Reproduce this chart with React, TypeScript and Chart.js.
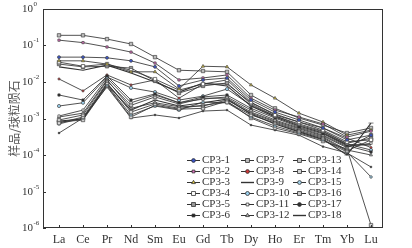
import React, { useEffect, useRef } from "react";
import { Chart, registerables } from "chart.js";
import { drawPoint } from "chart.js/helpers";

Chart.register(...registerables);

const categories = ["La", "Ce", "Pr", "Nd", "Sm", "Eu", "Gd", "Tb", "Dy", "Ho", "Er", "Tm", "Yb", "Lu"];
const seriesNames = [
  "CP3-1", "CP3-2", "CP3-3", "CP3-4", "CP3-5", "CP3-6",
  "CP3-7", "CP3-8", "CP3-9", "CP3-10", "CP3-11", "CP3-12",
  "CP3-13", "CP3-14", "CP3-15", "CP3-16", "CP3-17", "CP3-18",
];
const yTickExponents = [0, -1, -2, -3, -4, -5, -6];

const cp3_1 = [0.048, 0.048, 0.046, 0.038, 0.026, 0.0078, 0.0114, 0.0129, 0.0032, 0.0015, 0.00091, 0.00055, 0.00026, 0.00035];
const cp3_2 = [0.14, 0.12, 0.091, 0.066, 0.033, 0.0114, 0.0129, 0.0156, 0.0036, 0.0017, 0.0011, 0.00071, 0.00031, 0.00045];
const cp3_3 = [0.038, 0.038, 0.031, 0.019, 0.019, 0.0064, 0.027, 0.026, 0.0083, 0.0036, 0.0014, 0.0008, 0.00035, 0.00048];
const cp3_4 = [0.035, 0.027, 0.031, 0.021, 0.012, 0.006, 0.0088, 0.0114, 0.0028, 0.00125, 0.0008, 0.00048, 0.00023, 0.00026];
const cp3_5 = [0.031, 0.026, 0.027, 0.024, 0.0107, 0.005, 0.0078, 0.0094, 0.0025, 0.00117, 0.00071, 0.00045, 0.00021, 0.00029];
const cp3_6 = [0.0044, 0.0032, 0.0146, 0.0032, 0.0047, 0.0027, 0.0039, 0.0044, 0.0019, 0.00103, 0.00058, 0.00038, 0.00018, 0.000121];
const cp3_7 = [0.19, 0.19, 0.15, 0.11, 0.048, 0.021, 0.02, 0.019, 0.0044, 0.0019, 0.00103, 0.00066, 0.0004, 0.00055];
const cp3_8 = [0.0121, 0.0057, 0.0156, 0.0083, 0.0114, 0.0036, 0.0088, 0.0088, 0.0027, 0.00133, 0.0008, 0.00055, 0.00029, 0.00016];
const cp3_9 = [0.026, 0.021, 0.029, 0.0177, 0.01, 0.0053, 0.0094, 0.0078, 0.0022, 0.0011, 0.00062, 0.0004, 0.00019, 0.00019];
const cp3_10 = [0.0022, 0.0027, 0.0137, 0.0069, 0.0053, 0.0032, 0.0041, 0.0064, 0.0023, 0.00117, 0.00066, 0.00043, 0.0002, 0.000137];
const cp3_11 = [0.00117, 0.0017, 0.0129, 0.0027, 0.0044, 0.0027, 0.0034, 0.0039, 0.0017, 0.00091, 0.00055, 0.00035, 0.00017, 0.00021];
const cp3_12 = [0.0011, 0.0014, 0.0114, 0.0019, 0.0027, 0.0021, 0.0022, 0.0032, 0.0014, 0.0008, 0.00048, 0.00031, 0.000137, 0.0001];
const cp3_13 = [0.00091, 0.00125, 0.0107, 0.0023, 0.0039, 0.0025, 0.0036, 0.0036, 0.0015, 0.00085, 0.00052, 0.00033, 0.00016, 0.00035];
const cp3_14 = [0.00075, 0.0011, 0.0094, 0.0015, 0.0025, 0.0019, 0.0023, 0.0028, 0.00125, 0.00075, 0.00045, 0.00029, 0.000129, 0.00026];
const cp3_15 = [0.00071, 0.00103, 0.0083, 0.00125, 0.0022, 0.0017, 0.0028, 0.0027, 0.0011, 0.00062, 0.0004, 0.00026, 0.000121, 0.000025];
const cp3_16 = [0.0008, 0.00091, 0.0078, 0.0011, 0.0023, 0.0018, 0.0019, 0.003, 0.00103, 0.00055, 0.00038, 0.00024, 0.000146, 0.0000012];
const cp3_17 = [0.0004, 0.00103, 0.0073, 0.00103, 0.00125, 0.00103, 0.0016, 0.0017, 0.00066, 0.00048, 0.00035, 0.00017, 0.000114, 0.000047];
const cp3_18 = [0.00085, 0.00097, 0.0088, 0.0017, 0.0032, 0.0022, 0.0027, 0.0034, 0.00133, 0.00071, 0.00043, 0.00027, 0.0001, 0.00075];

const seriesValues = [
  cp3_1, cp3_2, cp3_3, cp3_4, cp3_5, cp3_6, cp3_7, cp3_8, cp3_9,
  cp3_10, cp3_11, cp3_12, cp3_13, cp3_14, cp3_15, cp3_16, cp3_17, cp3_18,
];

// marker style per series: [pointStyle, radius, fill]
const markerStyles: [string | false, number, string][] = [
  ["circle", 1.5, "#3a55c8"],
  ["rect", 1.6, "#e070c0"],
  ["triangle", 1.8, "#e8d040"],
  ["rect", 2.4, "#ffffff"],
  ["rect", 2.4, "#9a9a9a"],
  ["rect", 1.6, "#222222"],
  ["rect", 2.4, "#bdbdbd"],
  ["circle", 1.1, "#d03a3a"],
  [false, 0, "#333333"],
  ["circle", 1.6, "#9ad0ee"],
  ["rect", 1.6, "#ffffff"],
  ["triangle", 1.8, "#bbbbbb"],
  ["rect", 2.4, "#c8c8c8"],
  ["rect", 2.4, "#d8d8d8"],
  ["circle", 1.3, "#a8d8f0"],
  ["rect", 2.4, "#cfcfcf"],
  ["circle", 0.9, "#333333"],
  ["line", 2.5, "#333333"],
];

const TEXT = "#333333";
const SERIF = "'Liberation Serif', 'Times New Roman', serif";

const framePlugin = {
  id: "framePlugin",
  afterDatasetsDraw(chart: any) {
    const ctx = chart.ctx;
    const { left, right, top, bottom } = chart.chartArea;
    const xs = chart.scales.x;
    const ys = chart.scales.y;
    ctx.save();
    ctx.strokeStyle = "#333";
    ctx.lineWidth = 1;
    ctx.strokeRect(left + 0.5, top + 0.5, right - left - 1, bottom - top - 1);
    categories.forEach((_, i) => {
      const px = Math.round(xs.getPixelForValue(i)) + 0.5;
      ctx.beginPath();
      ctx.moveTo(px, bottom);
      ctx.lineTo(px, bottom - 3);
      ctx.stroke();
    });
    yTickExponents.forEach((e) => {
      const py = Math.round(ys.getPixelForValue(Math.pow(10, e))) + 0.5;
      ctx.beginPath();
      ctx.moveTo(left, py);
      ctx.lineTo(left + 3, py);
      ctx.stroke();
      ctx.fillStyle = TEXT;
      ctx.font = `11px ${SERIF}`;
      ctx.textAlign = "right";
      ctx.textBaseline = "middle";
      ctx.fillText("10", 33, py);
      ctx.font = `7px ${SERIF}`;
      ctx.textAlign = "left";
      ctx.fillText(e === 0 ? "0" : "-" + String(-e), 33.5, py - 5);
    });
    ctx.save();
    ctx.translate(14, (top + bottom) / 2);
    ctx.rotate(-Math.PI / 2);
    ctx.font = "12px 'Noto Sans CJK SC', sans-serif";
    ctx.fillStyle = "#555";
    ctx.textAlign = "center";
    ctx.textBaseline = "middle";
    ctx.fillText("样品/球粒陨石", 0, 0);
    ctx.restore();
    const colX = [187, 241, 293];
    chart.data.datasets.forEach((ds: any, i: number) => {
      const col = Math.floor(i / 6);
      const row = i % 6;
      const x0 = colX[col];
      const y0 = 160.5 + row * 11;
      ctx.strokeStyle = "#333";
      ctx.lineWidth = i === 8 || i === 17 ? 1.4 : 1;
      ctx.beginPath();
      ctx.moveTo(x0, y0);
      ctx.lineTo(x0 + 13, y0);
      ctx.stroke();
      const ms = markerStyles[i];
      if (ms[0]) {
        ctx.fillStyle = ms[2];
        ctx.strokeStyle = "#333";
        ctx.lineWidth = 0.8;
        drawPoint(ctx, { pointStyle: ms[0], radius: Math.max(ms[1], 1.5) + 0.4, rotation: 0, borderWidth: 0.8 } as any, x0 + 6.5, y0);
      }
      ctx.fillStyle = TEXT;
      ctx.font = `11px ${SERIF}`;
      ctx.textAlign = "left";
      ctx.textBaseline = "middle";
      ctx.fillText(ds.label, x0 + 15, y0);
    });
    ctx.restore();
  },
};

export default function App() {
  const ref = useRef<HTMLCanvasElement | null>(null);
  useEffect(() => {
    if (!ref.current) return;
    const datasets = seriesValues.map((vals, i) => {
      const ms = markerStyles[i];
      return {
        label: seriesNames[i],
        data: vals.map((v, j) => ({ x: j, y: v })),
        borderColor: "#333333",
        borderWidth: i === 8 || i === 17 ? 1.1 : 0.85,
        pointStyle: ms[0] as any,
        pointRadius: ms[1],
        pointBackgroundColor: ms[2],
        pointBorderColor: "#444444",
        pointBorderWidth: 0.7,
        fill: false,
        tension: 0,
      };
    });
    const chart = new Chart(ref.current, {
      type: "line",
      data: { datasets },
      options: {
        animation: false,
        responsive: false,
        devicePixelRatio: 1,
        layout: { padding: { top: 9, right: 29, left: 0, bottom: 0 } },
        plugins: { legend: { display: false }, tooltip: { enabled: false } },
        scales: {
          x: {
            type: "linear",
            min: -0.667,
            max: 13.5,
            afterBuildTicks: (s: any) => {
              s.ticks = categories.map((_, i) => ({ value: i }));
            },
            afterFit: (s: any) => {
              s.height = 20;
            },
            grid: { display: false, drawTicks: false },
            border: { display: false },
            ticks: {
              autoSkip: false,
              maxRotation: 0,
              padding: 5,
              color: TEXT,
              font: { family: SERIF, size: 12 },
              callback: (v: any) => categories[v] ?? "",
            },
          },
          y: {
            type: "logarithmic",
            min: 1e-6,
            max: 1,
            afterBuildTicks: (s: any) => {
              s.ticks = yTickExponents.map((e) => ({ value: Math.pow(10, e) }));
            },
            afterFit: (s: any) => {
              s.width = 43;
            },
            grid: { display: false, drawTicks: false },
            border: { display: false },
            ticks: { display: false },
          },
        },
      } as any,
      plugins: [framePlugin],
    });
    return () => chart.destroy();
  }, []);
  return (
    <div style={{ position: "fixed", left: 0, top: 0, width: 412, height: 248, background: "#fff" }}>
      <canvas ref={ref} width={412} height={248} style={{ display: "block" }} />
    </div>
  );
}
